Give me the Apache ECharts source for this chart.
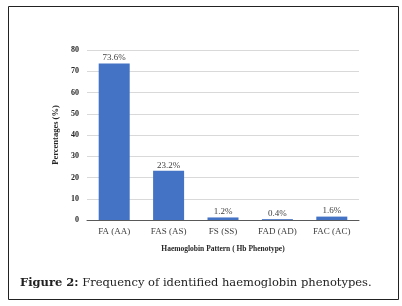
<!DOCTYPE html>
<html>
<head>
<meta charset="utf-8">
<script src="https://cdn.jsdelivr.net/npm/echarts@6/dist/echarts.min.js"></script>
<style>
  html, body { margin: 0; padding: 0; background: #fff; }
  #chart { width: 402px; height: 306px; }
</style>
</head>
<body>
<div id="chart"></div>
<script>
const categories = ["FA (AA)", "FAS (AS)", "FS (SS)", "FAD (AD)", "FAC (AC)"];
const percentages = [73.6, 23.2, 1.2, 0.4, 1.6];
const yTicks = [0, 10, 20, 30, 40, 50, 60, 70, 80];

const serif = "'Liberation Serif', 'DejaVu Serif', serif";
const captionFont = "'DejaVu Serif', serif";

const chart = echarts.init(document.getElementById("chart"));
const option = {
  animation: false,
  grid: { left: 87, right: 43, top: 50, bottom: 86 },
  xAxis: {
    type: "category",
    data: categories,
    axisTick: { show: false },
    axisLine: { lineStyle: { color: "#595959", width: 1 } },
    axisLabel: { color: "#404040", fontFamily: serif, fontSize: 9, margin: 7 },
    name: "Haemoglobin Pattern ( Hb Phenotype)",
    nameLocation: "middle",
    nameGap: 25,
    nameTextStyle: { color: "#262626", fontFamily: serif, fontSize: 7.5, fontWeight: "bold" }
  },
  yAxis: {
    type: "value",
    min: yTicks[0],
    max: yTicks[yTicks.length - 1],
    interval: 10,
    axisLine: { show: false },
    axisTick: { show: false },
    splitLine: { lineStyle: { color: "#d9d9d9", width: 1 } },
    axisLabel: { color: "#262626", fontFamily: serif, fontSize: 8, fontWeight: "bold", margin: 8 },
    name: "Percentages (%)",
    nameLocation: "middle",
    nameGap: 22,
    nameTextStyle: { color: "#262626", fontFamily: serif, fontSize: 8.5, fontWeight: "bold" }
  },
  series: [{
    type: "bar",
    data: percentages,
    barWidth: "57%",
    itemStyle: { color: "#4472c4" },
    label: {
      show: true,
      position: "top",
      distance: 1,
      formatter: "{c}%",
      color: "#404040",
      fontFamily: serif,
      fontSize: 9
    }
  }],
  graphic: [
    {
      type: "rect",
      shape: { x: 8.5, y: 6.5, width: 390, height: 293 },
      style: { fill: null, stroke: "#222", lineWidth: 1 }
    },
    {
      type: "text",
      left: 20,
      top: 277,
      style: {
        text: "{b|Figure 2:} Frequency of identified haemoglobin phenotypes.",
        font: "11.5px " + captionFont,
        fill: "#222",
        rich: {
          b: { fontWeight: "bold", fontFamily: captionFont, fontSize: 11.5, fill: "#222" }
        }
      }
    }
  ]
};
chart.setOption(option);
</script>
</body>
</html>
